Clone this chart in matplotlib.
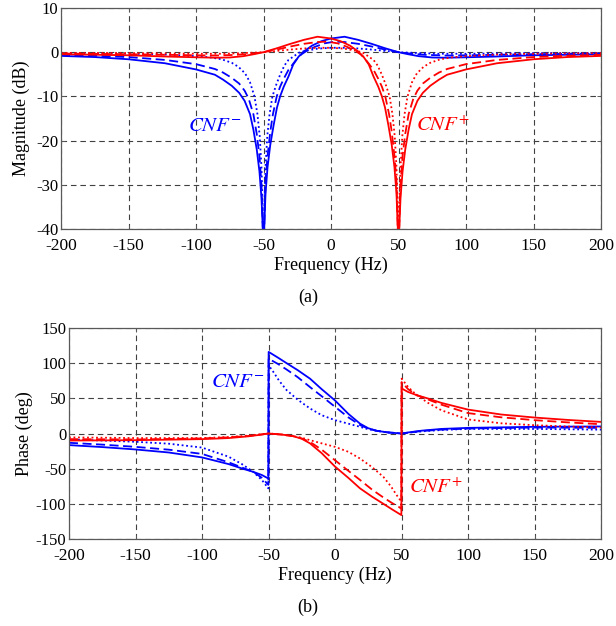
import matplotlib
matplotlib.use("Agg")
import matplotlib.pyplot as plt

plt.rcParams['font.family'] = ['Liberation Serif', 'DejaVu Serif']
plt.rcParams['mathtext.fontset'] = 'stix'
plt.rcParams['axes.unicode_minus'] = False

# ---------------- Magnitude (dB) ----------------
# CNF+ (red)
mp_solid_f = [-200, -150, -120, -100, -85, -75, -65, -57, -50, -40, -30, -20, -10, 0, 7, 14, 20, 24, 28, 31.5, 35, 37.7, 40, 42.5, 45, 47, 48.5, 49.5, 50,
              50.5, 51.5, 53, 55, 57.5, 60, 64, 68, 73.5, 80, 86, 100, 123, 150, 175, 200]
mp_solid_v = [-0.45, -0.7, -1.0, -1.15, -1.25, -1.2, -0.9, -0.45, 0, 0.9, 1.9, 2.8, 3.5, 3.1, 2.5, 1.5, 0.2, -1.0, -2.8, -5.5, -7.8, -10, -12.5, -16.5, -21, -26, -32, -40, -60,
              -40, -33, -27, -22, -17.5, -14, -11, -9.2, -7.6, -6.2, -5.1, -3.9, -2.5, -1.6, -1.1, -0.84]
mp_dash_f = [-200, -150, -120, -100, -85, -70, -60, -50, -40, -30, -20, -10, -3, 5, 12, 18, 22, 26, 31.5, 35, 37.7, 40.2, 43, 45, 47, 48.5, 49.5, 50,
             50.5, 51.5, 53, 55, 57.5, 61, 64, 68, 73.5, 80, 86, 100, 123, 150, 175, 200]
mp_dash_v = [-0.3, -0.45, -0.6, -0.7, -0.75, -0.6, -0.35, 0, 0.6, 1.3, 1.9, 2.3, 2.4, 2.0, 1.2, 0.3, -0.5, -1.8, -4.0, -6, -7.8, -10, -14, -18, -23.5, -29, -40, -60,
             -40, -30, -23.5, -18.5, -14, -10.5, -8.7, -7.1, -5.8, -4.6, -3.8, -2.7, -1.75, -1.1, -0.8, -0.6]
mp_dot_f = [-200, -150, -120, -100, -80, -65, -50, -40, -30, -20, -10, 0, 10, 17, 23, 27, 31.5, 34.5, 37.7, 40.5, 43.4, 45.5, 47.2, 48.5, 49.4, 50,
            50.6, 51.5, 52.8, 54.5, 56.7, 60, 63.6, 68.6, 73.5, 81, 90, 100, 125, 150, 200]
mp_dot_v = [-0.15, -0.2, -0.3, -0.35, -0.35, -0.2, 0, 0.3, 0.6, 0.85, 1.0, 1.0, 0.8, 0.4, 0, -0.8, -1.75, -3.0, -5.1, -7.3, -10, -14, -19, -26, -35, -60,
            -35, -26, -19, -14, -10, -6.8, -4.8, -3.3, -2.4, -1.6, -1.15, -0.9, -0.5, -0.35, -0.2]

# CNF- (blue)
mm_solid_f = [-200, -175, -150, -123, -100, -86, -80, -73.5, -68, -64, -60, -57.5, -55, -53, -51.5, -50.5, -50,
              -49.5, -48.5, -47, -45, -42.5, -40, -37.7, -35, -31.5, -28, -24, -20, -14, -7, 0, 10, 20, 30, 40, 50, 57, 65, 75, 85, 100, 120, 150, 200]
mm_solid_v = [-0.84, -1.1, -1.6, -2.5, -3.9, -5.1, -6.2, -7.6, -9.2, -11, -14, -17.5, -22, -27, -33, -40, -60,
              -40, -32, -26, -21, -16.5, -12.5, -10, -7.8, -5.5, -2.8, -1.0, 0.2, 1.5, 2.5, 3.1, 3.5, 2.8, 1.9, 0.9, 0, -0.45, -0.9, -1.2, -1.25, -1.15, -1.0, -0.7, -0.45]
mm_dash_f = [-200, -175, -150, -123, -100, -86, -80, -73.5, -68, -64, -61, -57.5, -55, -53, -51.5, -50.5, -50,
             -49.5, -48.5, -47, -45, -43, -40.2, -37.7, -35, -31.5, -26, -22, -18, -12, -5, 3, 10, 20, 30, 40, 50, 60, 70, 85, 100, 120, 150, 200]
mm_dash_v = [-0.6, -0.8, -1.1, -1.75, -2.7, -3.8, -4.6, -5.8, -7.1, -8.7, -10.5, -14, -18.5, -23.5, -30, -40, -60,
             -40, -29, -23.5, -18, -14, -10, -7.8, -6, -4.0, -1.8, -0.5, 0.3, 1.2, 2.0, 2.4, 2.3, 1.9, 1.3, 0.6, 0, -0.35, -0.6, -0.75, -0.7, -0.6, -0.45, -0.3]
mm_dot_f = [-200, -150, -125, -100, -90, -81, -73.5, -68.6, -63.6, -60, -56.7, -54.5, -52.8, -51.5, -50.6, -50,
            -49.4, -48.5, -47.2, -45.5, -43.4, -40.5, -37.7, -34.5, -31.5, -27, -23, -17, -10, 0, 10, 20, 30, 40, 50, 65, 80, 100, 120, 150, 200]
mm_dot_v = [-0.2, -0.35, -0.5, -0.9, -1.15, -1.6, -2.4, -3.3, -4.8, -6.8, -10, -14, -19, -26, -35, -60,
            -35, -26, -19, -14, -10, -7.3, -5.1, -3.0, -1.75, -0.8, 0, 0.4, 0.8, 1.0, 1.0, 0.85, 0.6, 0.3, 0, -0.2, -0.35, -0.35, -0.3, -0.2, -0.15]

# ---------------- Phase (deg) ----------------
# CNF+ (red)
pp_solid_f = [-200, -150, -100, -80, -65, -55, -50, -40, -31.4, -25, -18.8, -10, 0, 10, 18.8, 28, 36.4, 43, 49.9, 50.1, 55, 61.5, 70, 80, 100, 125, 150, 175, 200]
pp_solid_v = [-10, -9.5, -8, -6.5, -4, -1.5, 0, -1.5, -3.8, -7.5, -14, -28, -47, -63, -78, -90, -100, -108, -116, 64, 59, 54.5, 49.7, 43.5, 34, 27, 22.7, 19.3, 16.5]
pp_dash_f = [-200, -150, -100, -80, -65, -55, -50, -40, -31.4, -25, -18.8, -10, 0, 10, 18.8, 28, 36.4, 43, 47.7, 49.9, 50.1, 55, 61.5, 70, 80, 100, 125, 150, 175, 200]
pp_dash_v = [-8, -8.5, -7, -5.5, -3.5, -1.2, 0, -1.5, -3.8, -7, -12, -23, -38, -53, -66, -80, -91, -99, -104, -107, 73, 63, 54.5, 48.3, 41, 29, 23, 19, 15.8, 13.2]
pp_dot_f = [-200, -150, -100, -80, -65, -55, -50, -40, -31.4, -25, -18.8, -10, 0, 10, 18.8, 28, 36.4, 42, 46.4, 49.9, 50.1, 55, 61.5, 70, 80, 100, 125, 150, 175, 200]
pp_dot_v = [-5.5, -6.5, -6.5, -5, -3, -1, 0, -1.5, -3.8, -6, -9.5, -14, -19, -26, -35.6, -48, -61.7, -75, -87.7, -97, 78, 66, 54.5, 43.5, 33, 20, 14.5, 11.8, 10, 8.5]

# CNF- (blue)
pm_solid_f = [-200, -175, -150, -125, -100, -80, -70, -61.5, -55, -50.1, -49.9, -43, -36.4, -28, -18.8, -10, 0, 10, 18.8, 25, 31.4, 40, 50, 55, 65, 80, 100, 150, 200]
pm_solid_v = [-16.5, -19.3, -22.7, -27, -34, -43.5, -49.7, -54.5, -59, -64, 116, 108, 100, 90, 78, 63, 47, 28, 14, 7.5, 3.8, 1.5, 0, 1.5, 4, 6.5, 8, 9.5, 10]
pm_dash_f = [-200, -175, -150, -125, -100, -80, -70, -61.5, -55, -50.1, -49.9, -47.7, -43, -36.4, -28, -18.8, -10, 0, 10, 18.8, 25, 31.4, 40, 50, 55, 65, 80, 100, 150, 200]
pm_dash_v = [-13.2, -15.8, -19, -23, -29, -41, -48.3, -54.5, -63, -73, 107, 104, 99, 91, 80, 66, 53, 38, 23, 12, 7, 3.8, 1.5, 0, 1.2, 3.5, 5.5, 7, 8.5, 8]
pm_dot_f = [-200, -175, -150, -125, -100, -80, -70, -61.5, -55, -50.1, -49.9, -46.4, -42, -36.4, -28, -18.8, -10, 0, 10, 18.8, 25, 31.4, 40, 50, 55, 65, 80, 100, 150, 200]
pm_dot_v = [-8.5, -10, -11.8, -14.5, -20, -33, -43.5, -54.5, -66, -78, 97, 87.7, 75, 61.7, 48, 35.6, 26, 19, 14, 9.5, 6, 3.8, 1.5, 0, 1, 3, 5, 6.5, 6.5, 5.5]

freq_ticks = [-200, -150, -100, -50, 0, 50, 100, 150, 200]
mag_ticks = [10, 0, -10, -20, -30, -40]
phase_ticks = [150, 100, 50, 0, -50, -100, -150]

BLUE = (0, 0, 1)
RED = (1, 0, 0)
LW = 1.3

fig = plt.figure(figsize=(6.16, 6.26), dpi=100)
ax1 = fig.add_axes([61 / 616, 1 - 229 / 626, 540 / 616, 221 / 626])
ax2 = fig.add_axes([69 / 616, 1 - 539 / 626, 532 / 616, 211 / 626])


def style(ax):
    ax.grid(True, color='0.25', linestyle=(0, (5, 3.5)), linewidth=0.8)
    ax.set_axisbelow(True)
    for s in ax.spines.values():
        s.set_color('0.35')
        s.set_linewidth(0.9)
    ax.tick_params(direction='in', top=True, right=True, length=3, width=0.7, color='0.35',
                   labelsize=12.5)
    ax.tick_params(axis='x', pad=6.5)
    ax.tick_params(axis='y', pad=2, labelsize=12)
    ax.set_xlim(-200, 200)
    ax.set_xticks(freq_ticks)
    ax.set_xticklabels([str(t) for t in freq_ticks])


# Magnitude plot
ax1.plot(mm_solid_f, mm_solid_v, color=BLUE, lw=LW, ls='-')
ax1.plot(mm_dash_f, mm_dash_v, color=BLUE, lw=LW, ls=(0, (5, 2.5)))
ax1.plot(mm_dot_f, mm_dot_v, color=BLUE, lw=LW, ls=(0, (1, 1.5)))
ax1.plot(mp_solid_f, mp_solid_v, color=RED, lw=LW, ls='-')
ax1.plot(mp_dash_f, mp_dash_v, color=RED, lw=LW, ls=(0, (5, 2.5)))
ax1.plot(mp_dot_f, mp_dot_v, color=RED, lw=LW, ls=(0, (1, 1.5)))
style(ax1)
ax1.set_ylim(-40, 10)
ax1.set_yticks(mag_ticks)
ax1.set_yticklabels([str(t) for t in mag_ticks])
ax1.set_xlabel('Frequency (Hz)', fontsize=13, labelpad=2)
ax1.set_ylabel('Magnitude (dB)', fontsize=13, labelpad=4)
ax1.text(-106, -16.7, r'$CNF^{-}$', color=BLUE, fontsize=15, ha='left', va='center')
ax1.text(63, -16.7, r'$CNF^{+}$', color=RED, fontsize=15, ha='left', va='center')

# Phase plot
ax2.plot(pm_solid_f, pm_solid_v, color=BLUE, lw=LW, ls='-')
ax2.plot(pm_dash_f, pm_dash_v, color=BLUE, lw=LW, ls=(0, (5, 2.5)))
ax2.plot(pm_dot_f, pm_dot_v, color=BLUE, lw=LW, ls=(0, (1, 1.5)))
ax2.plot(pp_solid_f, pp_solid_v, color=RED, lw=LW, ls='-')
ax2.plot(pp_dash_f, pp_dash_v, color=RED, lw=LW, ls=(0, (5, 2.5)))
ax2.plot(pp_dot_f, pp_dot_v, color=RED, lw=LW, ls=(0, (1, 1.5)))
style(ax2)
ax2.set_ylim(-150, 150)
ax2.set_yticks(phase_ticks)
ax2.set_yticklabels([str(t) for t in phase_ticks])
ax2.set_xlabel('Frequency (Hz)', fontsize=13, labelpad=2)
ax2.set_ylabel('Phase (deg)', fontsize=13, labelpad=2)
ax2.text(-93, 73, r'$CNF^{-}$', color=BLUE, fontsize=15, ha='left', va='center')
ax2.text(55.7, -78, r'$CNF^{+}$', color=RED, fontsize=15, ha='left', va='center')

fig.text(308 / 616, 1 - 297 / 626, '(a)', fontsize=13, ha='center', va='center')
fig.text(308 / 616, 1 - 607 / 626, '(b)', fontsize=13, ha='center', va='center')

fig.savefig('out.png', dpi=100)
